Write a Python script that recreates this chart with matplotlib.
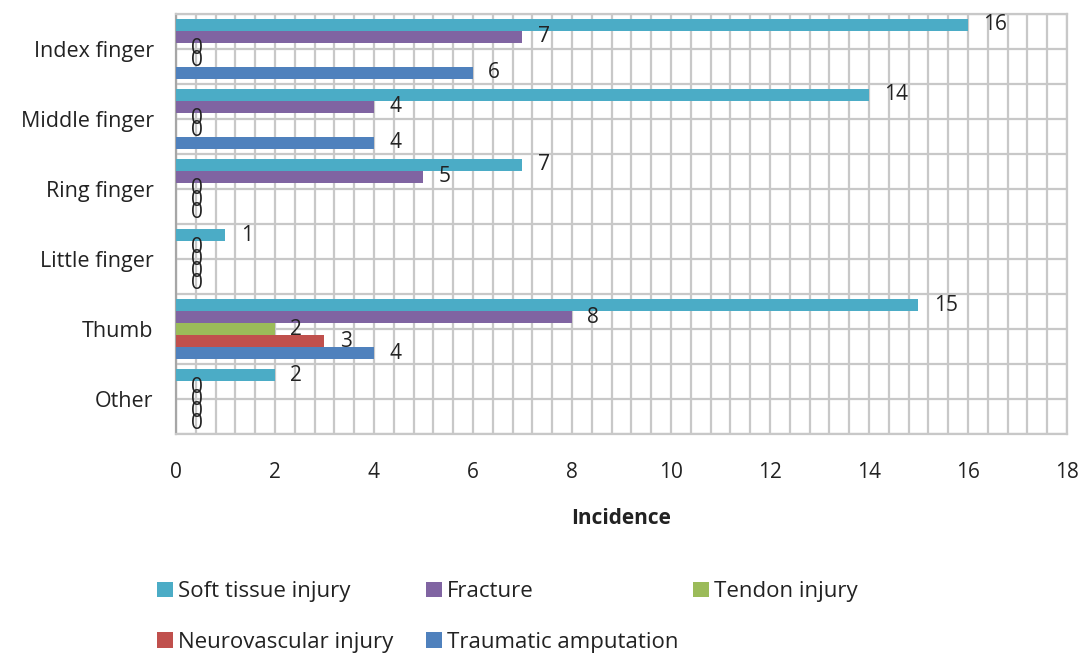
import numpy as np
import matplotlib.pyplot as plt

plt.rcParams['font.family'] = ['Open Sans', 'DejaVu Sans']

categories = ["Index finger", "Middle finger", "Ring finger", "Little finger", "Thumb", "Other"]
series = ["Soft tissue injury", "Fracture", "Tendon injury", "Neurovascular injury", "Traumatic amputation"]
soft_tissue = [16, 14, 7, 1, 15, 2]
fracture = [7, 4, 5, 0, 8, 0]
tendon = [0, 0, 0, 0, 2, 0]
neurovascular = [0, 0, 0, 0, 3, 0]
amputation = [6, 4, 0, 0, 4, 0]
colors = ["#4BACC6", "#8064A2", "#9BBB59", "#C0504D", "#4F81BD"]

values = [soft_tissue, fracture, tendon, neurovascular, amputation]

fig = plt.figure(figsize=(10.86, 6.55), dpi=100)
ax = fig.add_axes([0.162, 0.337, 0.8205, 0.642])

y = np.arange(len(categories))
h = 0.171
handles = []
for j, (name, vals, c) in enumerate(zip(series, values, colors)):
    pos = y + (j - 2) * h
    b = ax.barh(pos, vals, height=h, color=c, label=name, zorder=3)
    handles.append(b)
    for p, v in zip(pos, vals):
        ax.annotate(str(v), (v, p), xytext=(11, 0), textcoords="offset points",
                    ha="left", va="center", fontsize=15, color="#222222", zorder=4)

ax.set_xlim(0, 18)
ax.set_ylim(len(categories) - 0.5, -0.5)
ax.set_xticks(np.arange(0, 19, 2))
ax.set_xticks(np.arange(0, 18.01, 0.4), minor=True)
ax.set_yticks(y)
ax.set_yticklabels(categories)
ax.set_yticks(np.arange(-0.5, len(categories), 0.5), minor=True)
ax.grid(which="both", color="#C8C8C8", linewidth=1.6, zorder=0)
ax.tick_params(which="both", length=0)
ax.tick_params(axis="x", labelsize=15, pad=20, colors="#222222")
ax.tick_params(axis="y", labelsize=15.5, pad=16, colors="#222222")
for s in ax.spines.values():
    s.set_color("#C8C8C8")
    s.set_linewidth(1.6)
ax.spines["left"].set_color("#A6A6A6")

ax.set_xlabel("Incidence", fontsize=15, fontweight="bold", labelpad=18, color="#222222")

# legend entries placed one by one, as in the original two-row layout
spots = [(0.1446, 0.0962), (0.3923, 0.0962), (0.6381, 0.0962),
         (0.1446, 0.0198), (0.3923, 0.0198)]
for hd, name, (lx, ly) in zip(handles, series, spots):
    fig.legend([hd], [name], loc="center left", bbox_to_anchor=(lx, ly),
               frameon=False, fontsize=16, handlelength=0.7, handleheight=0.7,
               handletextpad=0.25, borderpad=0, borderaxespad=0,
               labelcolor="#222222")

fig.savefig("out.png", dpi=100)
